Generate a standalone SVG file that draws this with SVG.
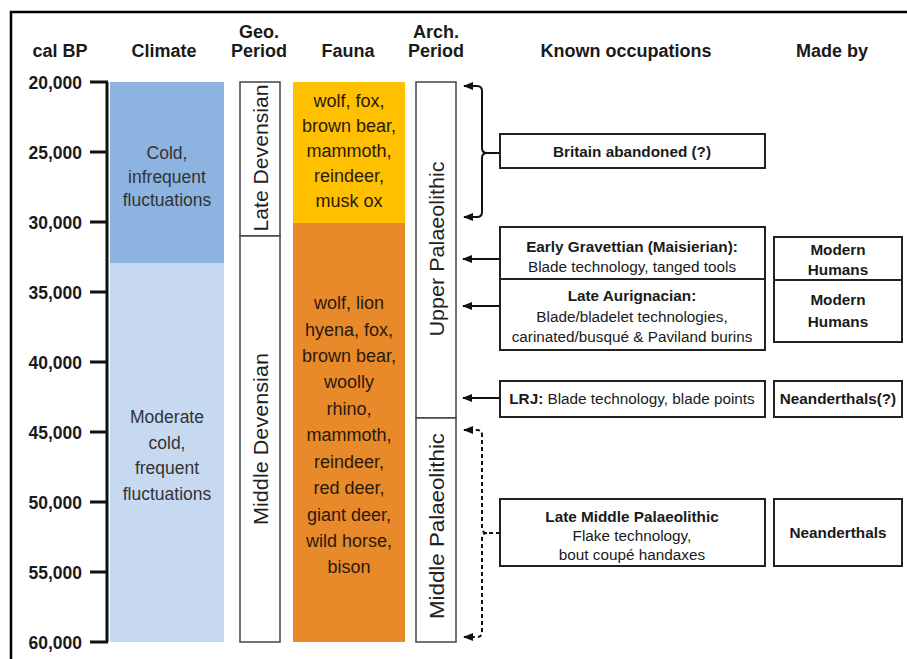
<svg xmlns="http://www.w3.org/2000/svg" width="907" height="659" viewBox="0 0 907 659">
<style>
text{font-family:"Liberation Sans",Arial,sans-serif;fill:#1a1a1a}
.h{font-size:18px;font-weight:bold;text-anchor:middle}
.tk{font-size:17.5px;font-weight:bold;text-anchor:end}
.c{font-size:17.5px;text-anchor:middle;fill:#333}
.f{font-size:18px;text-anchor:middle;fill:#2a1a0a}
.v{font-size:21px;text-anchor:middle;fill:#222}
.b{font-size:15.3px;text-anchor:middle}
.bb{font-size:15.3px;text-anchor:middle;font-weight:bold}
.box{fill:#fff;stroke:#222;stroke-width:2}
.col{fill:#fff;stroke:#444;stroke-width:1.5}
.ln{fill:none;stroke:#111;stroke-width:2}
.dash{fill:none;stroke:#111;stroke-width:2;stroke-dasharray:4,3}
</style>
<defs>
<marker id="ah" viewBox="0 0 10 8" refX="9" refY="4" markerWidth="5" markerHeight="4" orient="auto" markerUnits="strokeWidth">
<path d="M0,0 L10,4 L0,8 z" fill="#111"/>
</marker>
</defs>
<rect width="907" height="659" fill="#fff"/>
<g id="frame"><path d="M11,659 V12 H907" fill="none" stroke="#000" stroke-width="2.5"/></g>
<g id="headers">
<text class="h" x="60" y="57">cal BP</text>
<text class="h" x="164" y="57">Climate</text>
<text class="h" x="259" y="38">Geo.</text>
<text class="h" x="259" y="57">Period</text>
<text class="h" x="348" y="57">Fauna</text>
<text class="h" x="436" y="38">Arch.</text>
<text class="h" x="436" y="57">Period</text>
<text class="h" x="626" y="57">Known occupations</text>
<text class="h" x="832" y="57">Made by</text>
</g>
<g id="axis">
<path d="M107,82 V642 M90,82 H108 M90,152 H108 M90,222 H108 M90,292 H108 M90,362 H108 M90,432 H108 M90,502 H108 M90,572 H108 M90,642 H108" fill="none" stroke="#111" stroke-width="3"/>
<text class="tk" x="82" y="89">20,000</text>
<text class="tk" x="82" y="159">25,000</text>
<text class="tk" x="82" y="229">30,000</text>
<text class="tk" x="82" y="299">35,000</text>
<text class="tk" x="82" y="369">40,000</text>
<text class="tk" x="82" y="439">45,000</text>
<text class="tk" x="82" y="509">50,000</text>
<text class="tk" x="82" y="579">55,000</text>
<text class="tk" x="82" y="649">60,000</text>
</g>
<g id="climate-cold">
<rect x="110" y="82" width="114" height="181" fill="#8db3e0"/>
<text class="c" x="167" y="159">Cold,</text>
<text class="c" x="167" y="183">infrequent</text>
<text class="c" x="167" y="206">fluctuations</text>
</g>
<g id="climate-moderate">
<rect x="110" y="263" width="114" height="379" fill="#c6d9f0"/>
<text class="c" x="167" y="423">Moderate</text>
<text class="c" x="167" y="449">cold,</text>
<text class="c" x="167" y="474">frequent</text>
<text class="c" x="167" y="500">fluctuations</text>
</g>
<g id="late-devensian">
<rect class="col" x="240" y="82" width="40" height="154"/>
<text class="v" transform="translate(268,158) rotate(-90)" textLength="147" lengthAdjust="spacingAndGlyphs">Late Devensian</text>
</g>
<g id="middle-devensian">
<rect class="col" x="240" y="236" width="40" height="406"/>
<text class="v" transform="translate(268,439) rotate(-90)" textLength="172" lengthAdjust="spacingAndGlyphs">Middle Devensian</text>
</g>
<g id="fauna-late">
<rect x="293" y="82" width="112" height="141" fill="#ffc000"/>
<text class="f" x="349" y="107">wolf, fox,</text>
<text class="f" x="349" y="132">brown bear,</text>
<text class="f" x="349" y="157">mammoth,</text>
<text class="f" x="349" y="182">reindeer,</text>
<text class="f" x="349" y="207">musk ox</text>
</g>
<g id="fauna-middle">
<rect x="293" y="223" width="112" height="419" fill="#e8892a"/>
<text class="f" x="349" y="309">wolf, lion</text>
<text class="f" x="349" y="336">hyena, fox,</text>
<text class="f" x="349" y="362">brown bear,</text>
<text class="f" x="349" y="388">woolly</text>
<text class="f" x="349" y="415">rhino,</text>
<text class="f" x="349" y="441">mammoth,</text>
<text class="f" x="349" y="468">reindeer,</text>
<text class="f" x="349" y="494">red deer,</text>
<text class="f" x="349" y="521">giant deer,</text>
<text class="f" x="349" y="547">wild horse,</text>
<text class="f" x="349" y="573">bison</text>
</g>
<g id="upper-palaeolithic">
<rect class="col" x="416" y="82" width="40" height="336"/>
<text class="v" transform="translate(444,249) rotate(-90)" textLength="175" lengthAdjust="spacingAndGlyphs">Upper Palaeolithic</text>
</g>
<g id="middle-palaeolithic">
<rect class="col" x="416" y="418" width="40" height="224"/>
<text class="v" transform="translate(444,526) rotate(-90)" textLength="186" lengthAdjust="spacingAndGlyphs">Middle Palaeolithic</text>
</g>
<g id="connectors">
<path class="ln" d="M500,153 H487 Q482,153 482,148 V91 Q482,86 477,86 H464" marker-end="url(#ah)"/>
<path class="ln" d="M487,153 Q482,153 482,158 V212 Q482,217 477,217 H464" marker-end="url(#ah)"/>
<path class="ln" d="M500,259 H463" marker-end="url(#ah)"/>
<path class="ln" d="M500,306 H463" marker-end="url(#ah)"/>
<path class="ln" d="M500,398 H463" marker-end="url(#ah)"/>
<path class="dash" d="M500,533 H487 Q482,533 482,528 V435 Q482,430 477,430 H464" marker-end="url(#ah)"/>
<path class="dash" d="M487,533 Q482,533 482,538 V632 Q482,637 477,637 H464" marker-end="url(#ah)"/>
</g>
<g id="britain-abandoned">
<rect class="box" x="500" y="134" width="265" height="34"/>
<text class="bb" x="632" y="157">Britain abandoned (?)</text>
</g>
<g id="early-gravettian">
<rect class="box" x="500" y="227" width="265" height="52"/>
<text class="bb" x="632" y="252">Early Gravettian (Maisierian):</text>
<text class="b" x="632" y="272">Blade technology, tanged tools</text>
</g>
<g id="late-aurignacian">
<rect class="box" x="500" y="279" width="265" height="71"/>
<text class="bb" x="632" y="301">Late Aurignacian:</text>
<text class="b" x="632" y="322">Blade/bladelet technologies,</text>
<text class="b" x="632" y="342">carinated/busqué &amp; Paviland burins</text>
</g>
<g id="lrj">
<rect class="box" x="500" y="381" width="265" height="36"/>
<text class="b" x="632" y="404"><tspan font-weight="bold">LRJ:</tspan> Blade technology, blade points</text>
</g>
<g id="late-middle-palaeolithic">
<rect class="box" x="500" y="499" width="265" height="67"/>
<text class="bb" x="632" y="522">Late Middle Palaeolithic</text>
<text class="b" x="632" y="541">Flake technology,</text>
<text class="b" x="632" y="560">bout coupé handaxes</text>
</g>
<g id="made-modern-1">
<rect class="box" x="774" y="237" width="128" height="43"/>
<text class="bb" x="838" y="255">Modern</text>
<text class="bb" x="838" y="275">Humans</text>
</g>
<g id="made-modern-2">
<rect class="box" x="774" y="280" width="128" height="62"/>
<text class="bb" x="838" y="305">Modern</text>
<text class="bb" x="838" y="327">Humans</text>
</g>
<g id="made-neanderthals-q">
<rect class="box" x="774" y="381" width="128" height="36"/>
<text class="bb" x="838" y="404">Neanderthals(?)</text>
</g>
<g id="made-neanderthals">
<rect class="box" x="774" y="499" width="128" height="67"/>
<text class="bb" x="838" y="538">Neanderthals</text>
</g>
</svg>
